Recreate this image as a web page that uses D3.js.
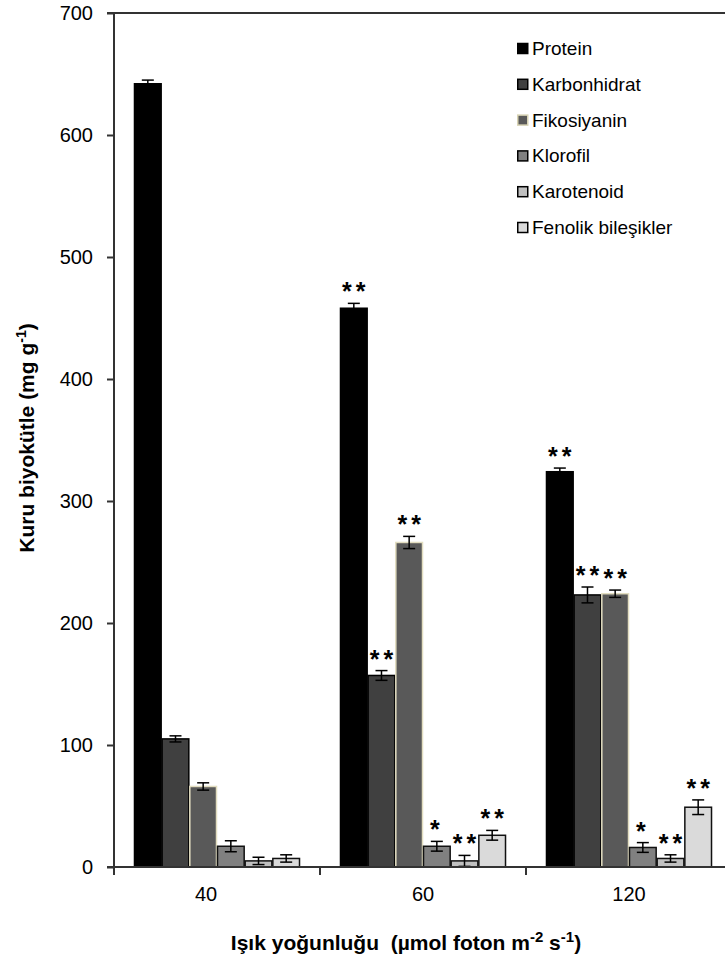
<!DOCTYPE html>
<html>
<head>
  <meta charset="utf-8">
  <title>Kuru biyokütle</title>
  <script src="https://d3js.org/d3.v7.min.js"></script>
  <style>
    body { margin: 0; background: #fff; }
    svg { display: block; font-family: "Liberation Sans", Arial, sans-serif; }
  </style>
</head>
<body>
<div id="chart"></div>
<script>
// light intensities (x categories) and components (series)
var groups = ["40", "60", "120"];
var series = ["Protein", "Karbonhidrat", "Fikosiyanin", "Klorofil", "Karotenoid", "Fenolik bileşikler"];

// mean values, mg g-1, per light intensity
var protein      = [642, 458, 324];
var karbonhidrat = [105, 157, 223];
var fikosiyanin  = [66, 266, 224];
var klorofil     = [17, 17, 16];
var karotenoid   = [5, 5, 7];
var fenolik      = [7, 26, 49];

// standard errors
var proteinErr      = [3, 4, 3];
var karbonhidratErr = [2.5, 4, 6.5];
var fikosiyaninErr  = [3, 5, 3];
var klorofilErr     = [4.5, 4, 4];
var karotenoidErr   = [3, 4.5, 3];
var fenolikErr      = [3, 4, 6];

// significance marks
var proteinSig      = ["", "**", "**"];
var karbonhidratSig = ["", "**", "**"];
var fikosiyaninSig  = ["", "**", "**"];
var klorofilSig     = ["", "*", "*"];
var karotenoidSig   = ["", "**", "**"];
var fenolikSig      = ["", "**", "**"];

var yTicks = [0, 100, 200, 300, 400, 500, 600, 700];

var values = [protein, karbonhidrat, fikosiyanin, klorofil, karotenoid, fenolik];
var errors = [proteinErr, karbonhidratErr, fikosiyaninErr, klorofilErr, karotenoidErr, fenolikErr];
var sigs = [proteinSig, karbonhidratSig, fikosiyaninSig, klorofilSig, karotenoidSig, fenolikSig];

var fills   = ["#000000", "#404040", "#595959", "#808080", "#c0c0c0", "#dadada"];
var strokes = ["#000000", "#000000", "#e2ddc0", "#111111", "#111111", "#111111"];

var width = 725, height = 966;
var svg = d3.select("#chart").append("svg")
    .attr("width", width)
    .attr("height", height);

var x0 = d3.scaleBand()
    .domain(groups)
    .range([114, 732])
    .paddingInner(0.194)
    .paddingOuter(0.097);

var x1 = d3.scaleBand()
    .domain(series)
    .range([0, x0.bandwidth()]);

var y = d3.scaleLinear()
    .domain([0, 700])
    .range([867, 13]);

// flatten
var data = [];
groups.forEach(function (g, gi) {
  series.forEach(function (s, si) {
    data.push({ g: g, s: s, si: si, v: values[si][gi], e: errors[si][gi], sig: sigs[si][gi] });
  });
});

var g = svg.append("g");

g.selectAll("rect.bar")
  .data(data)
  .enter().append("rect")
    .attr("class", "bar")
    .attr("x", function (d) { return x0(d.g) + x1(d.s) + 0.5; })
    .attr("y", function (d) { return y(d.v); })
    .attr("width", x1.bandwidth() - 1)
    .attr("height", function (d) { return y(0) - y(d.v); })
    .style("fill", function (d) { return fills[d.si]; })
    .style("stroke", function (d) { return strokes[d.si]; })
    .style("stroke-width", 1.5);

// error bars
var eb = g.selectAll("g.err")
  .data(data)
  .enter().append("g")
    .attr("class", "err")
    .attr("transform", function (d) {
      return "translate(" + (x0(d.g) + x1(d.s) + x1.bandwidth() / 2) + ",0)";
    });

eb.append("line")
    .attr("y1", function (d) { return y(d.v + d.e); })
    .attr("y2", function (d) { return y(d.v - d.e); });
eb.append("line")
    .attr("x1", -6).attr("x2", 6)
    .attr("y1", function (d) { return y(d.v + d.e); })
    .attr("y2", function (d) { return y(d.v + d.e); });
eb.append("line")
    .attr("x1", -6).attr("x2", 6)
    .attr("y1", function (d) { return y(d.v - d.e); })
    .attr("y2", function (d) { return y(d.v - d.e); });
eb.selectAll("line")
    .style("stroke", "#000")
    .style("stroke-width", 1.5);

// stars
g.selectAll("text.sig")
  .data(data.filter(function (d) { return d.sig; }))
  .enter().append("text")
    .attr("class", "sig")
    .attr("x", function (d) { return x0(d.g) + x1(d.s) + x1.bandwidth() / 2 + (d.sig.length > 1 ? 2 : 0); })
    .attr("y", function (d) { return y(d.v + d.e) - 3; })
    .attr("text-anchor", "middle")
    .style("font-size", "25px")
    .style("font-weight", "bold")
    .style("letter-spacing", "4px")
    .text(function (d) { return d.sig; });

// axes
var axisColor = "#333";

var yAxis = svg.append("g")
    .attr("transform", "translate(114,0)")
    .call(d3.axisLeft(y).tickValues(yTicks).tickSize(7).tickPadding(14));
yAxis.select(".domain").remove();
yAxis.selectAll(".tick line").style("stroke", axisColor).style("stroke-width", 2);
yAxis.selectAll(".tick text")
    .style("font-size", "20px")
    .style("font-family", "Liberation Sans, Arial, sans-serif")
    .style("fill", "#000");

svg.append("line")
    .attr("x1", 114).attr("x2", 114)
    .attr("y1", y(700) - 1).attr("y2", y(0))
    .style("stroke", axisColor).style("stroke-width", 2);

// top border
svg.append("line")
    .attr("x1", 107).attr("x2", width)
    .attr("y1", y(700)).attr("y2", y(700))
    .style("stroke", axisColor).style("stroke-width", 2);

// x baseline
svg.append("line")
    .attr("x1", 107).attr("x2", width)
    .attr("y1", y(0)).attr("y2", y(0))
    .style("stroke", axisColor).style("stroke-width", 2);

// boundary ticks between groups
var half = x0.step() * x0.paddingInner() / 2;
var bounds = groups.map(function (d) { return x0(d) - half; });
svg.selectAll("line.xtick")
  .data(bounds)
  .enter().append("line")
    .attr("class", "xtick")
    .attr("x1", function (d) { return d; }).attr("x2", function (d) { return d; })
    .attr("y1", y(0)).attr("y2", y(0) + 8)
    .style("stroke", axisColor).style("stroke-width", 2);

var xAxis = svg.append("g")
    .attr("transform", "translate(0," + y(0) + ")")
    .call(d3.axisBottom(x0).tickSize(0).tickPadding(20));
xAxis.select(".domain").remove();
xAxis.selectAll(".tick text")
    .style("font-size", "20px")
    .style("font-family", "Liberation Sans, Arial, sans-serif")
    .style("fill", "#000")
    // the first label sits a little left of its group in the original
    .attr("dx", function (d, i) { return i === 0 ? -11 : 0; });

// axis titles
var yt = svg.append("text")
    .attr("transform", "translate(34,438) rotate(-90)")
    .attr("text-anchor", "middle")
    .style("font-size", "21px")
    .style("font-weight", "bold");
yt.append("tspan").text("Kuru biyokütle (mg g");
yt.append("tspan").attr("dy", -8).style("font-size", "14px").text("-1");
yt.append("tspan").attr("dy", 8).text(")");

var xt = svg.append("text")
    .attr("x", 406).attr("y", 950)
    .attr("text-anchor", "middle")
    .style("font-size", "21px")
    .style("font-weight", "bold")
    .attr("xml:space", "preserve");
xt.append("tspan").text("Işık yoğunluğu  (µmol foton m");
xt.append("tspan").attr("dy", -8).style("font-size", "15px").text("-2");
xt.append("tspan").attr("dy", 8).text(" s");
xt.append("tspan").attr("dy", -8).style("font-size", "15px").text("-1");
xt.append("tspan").attr("dy", 8).text(")");

// legend
var legend = svg.append("g")
    .attr("transform", "translate(517,48)");
var li = legend.selectAll("g")
  .data(series)
  .enter().append("g")
    .attr("transform", function (d, i) { return "translate(0," + (i * 35.8) + ")"; });
li.append("rect")
    .attr("x", 0.75).attr("y", -4.5)
    .attr("width", 10).attr("height", 10)
    .style("fill", function (d, i) { return fills[i]; })
    .style("stroke", function (d, i) { return i === 2 ? "#d8d3b4" : "#000"; })
    .style("stroke-width", 1.5);
li.append("text")
    .attr("x", 15).attr("y", 7)
    .style("font-size", "19px")
    .text(function (d) { return d; });
</script>
</body>
</html>
